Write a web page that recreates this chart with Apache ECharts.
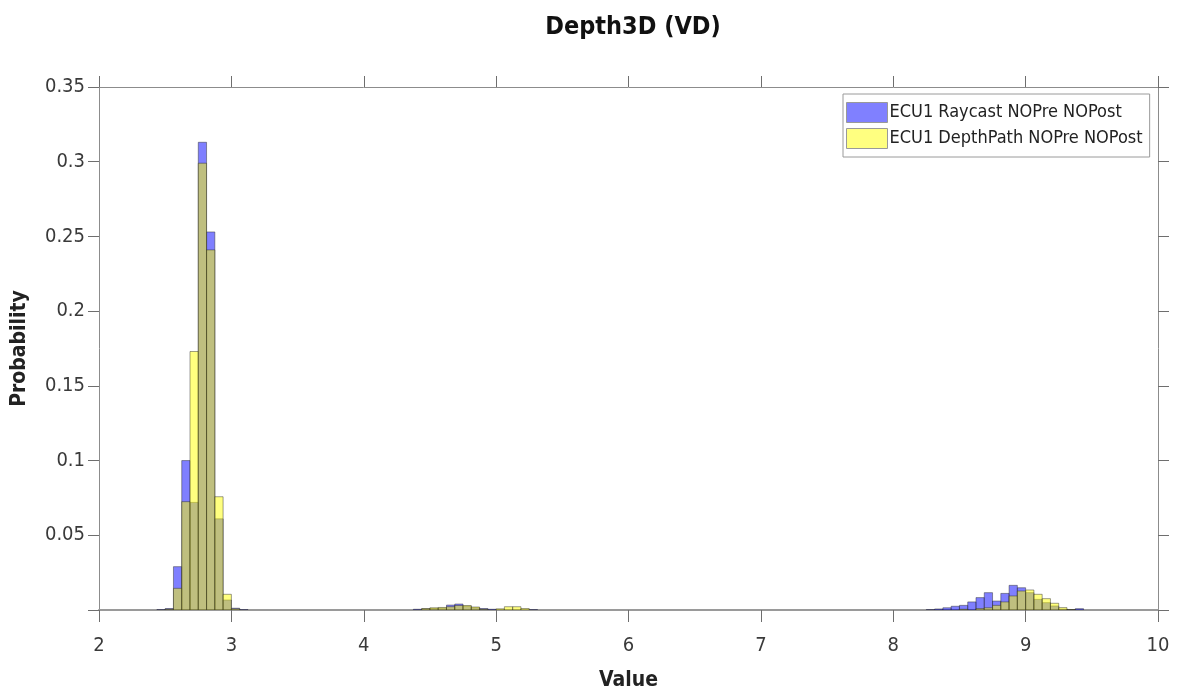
<!DOCTYPE html>
<html>
<head>
<meta charset="utf-8">
<title>Depth3D (VD)</title>
<script src="https://cdn.jsdelivr.net/npm/echarts@6/dist/echarts.min.js"></script>
<style>
  html, body { margin: 0; padding: 0; background: #fff; }
  #chart { width: 1180px; height: 696px; }
</style>
</head>
<body>
<div id="chart"></div>
<script>
// Histogram bins: each entry is [left bin edge, probability]; bins are 0.0625 wide.
const binWidth = 0.0625;
const xTicks = [2, 3, 4, 5, 6, 7, 8, 9, 10];
const yTicks = [0.05, 0.1, 0.15, 0.2, 0.25, 0.3, 0.35];

const seriesNames = ['ECU1 Raycast NOPre NOPost', 'ECU1 DepthPath NOPre NOPost'];

const raycastBins = [
  [2.4375, 0.0003], [2.5, 0.001], [2.5625, 0.029], [2.625, 0.100], [2.6875, 0.072],
  [2.75, 0.313], [2.8125, 0.253], [2.875, 0.061], [2.9375, 0.0067], [3.0, 0.0012],
  [3.0625, 0.0003],
  [4.375, 0.0005], [4.4375, 0.0008], [4.5, 0.001], [4.5625, 0.0012], [4.625, 0.0033],
  [4.6875, 0.004], [4.75, 0.0025], [4.8125, 0.0015], [4.875, 0.001], [4.9375, 0.0005],
  [5.25, 0.0003],
  [8.25, 0.0003], [8.3125, 0.0007], [8.375, 0.0015], [8.4375, 0.0025], [8.5, 0.0031],
  [8.5625, 0.0054], [8.625, 0.0083], [8.6875, 0.0116], [8.75, 0.006], [8.8125, 0.0111],
  [8.875, 0.0165], [8.9375, 0.0149], [9.0, 0.0116], [9.0625, 0.0071], [9.125, 0.0049],
  [9.1875, 0.0027], [9.25, 0.0005], [9.3125, 0.0003], [9.375, 0.0009]
];

const depthPathBins = [
  [2.5, 0.0005], [2.5625, 0.0145], [2.625, 0.0725], [2.6875, 0.173], [2.75, 0.299],
  [2.8125, 0.241], [2.875, 0.0758], [2.9375, 0.0105], [3.0, 0.0008],
  [4.4375, 0.001], [4.5, 0.0015], [4.5625, 0.0017], [4.625, 0.0022], [4.6875, 0.003],
  [4.75, 0.003], [4.8125, 0.002], [4.875, 0.0005],
  [5.0, 0.0008], [5.0625, 0.0022], [5.125, 0.0022], [5.1875, 0.001],
  [8.5, 0.0005], [8.625, 0.001], [8.6875, 0.0015], [8.75, 0.0031], [8.8125, 0.0054],
  [8.875, 0.0094], [8.9375, 0.0127], [9.0, 0.0134], [9.0625, 0.0105], [9.125, 0.0076],
  [9.1875, 0.0045], [9.25, 0.0016], [9.3125, 0.0003]
];

const FONT = "'DejaVu Sans Condensed', 'Liberation Sans', sans-serif";
const blueFill = 'rgba(0, 0, 255, 0.5)';
const yellowFill = 'rgba(255, 255, 0, 0.5)';
const barEdge = 'rgba(40, 40, 40, 0.45)';

function histogramBars(fill) {
  return function (params, api) {
    const left = api.value(0);
    const prob = api.value(1);
    const topLeft = api.coord([left, prob]);
    const bottomRight = api.coord([left + binWidth, 0]);
    return {
      type: 'rect',
      shape: {
        x: topLeft[0],
        y: topLeft[1],
        width: bottomRight[0] - topLeft[0],
        height: bottomRight[1] - topLeft[1]
      },
      style: { fill: fill, stroke: barEdge, lineWidth: 1 }
    };
  };
}

const axisLineStyle = { color: '#8c8c8c', width: 1 };
const tickStyle = { color: '#6e6e6e', width: 1 };

const chart = echarts.init(document.getElementById('chart'), null, { renderer: 'canvas' });

chart.setOption({
  animation: false,
  backgroundColor: '#fff',
  textStyle: { fontFamily: FONT },
  title: {
    text: 'Depth3D (VD)',
    left: 628,
    textAlign: 'center',
    top: 10,
    textStyle: { fontFamily: FONT, fontSize: 25, fontWeight: 'bold', color: '#111' }
  },
  legend: {
    orient: 'vertical',
    left: 843,
    top: 94,
    padding: [8, 7, 8, 3],
    itemGap: 5,
    itemWidth: 41,
    itemHeight: 20,
    icon: 'rect',
    borderColor: '#9a9a9a',
    borderWidth: 1,
    backgroundColor: '#fff',
    textStyle: { fontFamily: FONT, fontSize: 18, color: '#222', padding: [0, 0, 0, -3] },
    data: [
      { name: seriesNames[0], itemStyle: { color: 'rgb(128,128,255)', borderColor: '#999', borderWidth: 1 } },
      { name: seriesNames[1], itemStyle: { color: 'rgb(255,255,128)', borderColor: '#999', borderWidth: 1 } }
    ]
  },
  grid: { left: 99, right: 22, top: 87, bottom: 86, containLabel: false, outerBoundsMode: 'none' },
  xAxis: [
    {
      type: 'value',
      min: xTicks[0],
      max: xTicks[xTicks.length - 1],
      interval: 1,
      position: 'bottom',
      name: 'Value',
      nameLocation: 'middle',
      nameGap: 60,
      nameTextStyle: { fontFamily: FONT, fontSize: 21, fontWeight: 'bold', color: '#222' },
      axisLine: { show: true, onZero: false, lineStyle: { color: '#9a9a9a', width: 2 } },
      axisTick: { show: true, inside: false, length: 12, lineStyle: tickStyle },
      axisLabel: { margin: 26, fontFamily: FONT, fontSize: 20, color: '#3a3a3a' },
      splitLine: { show: false }
    },
    {
      type: 'value',
      min: xTicks[0],
      max: xTicks[xTicks.length - 1],
      interval: 1,
      position: 'top',
      axisLine: { show: true, onZero: false, lineStyle: axisLineStyle },
      axisTick: { show: true, inside: false, length: 11, lineStyle: tickStyle },
      axisLabel: { show: false },
      splitLine: { show: false }
    }
  ],
  yAxis: [
    {
      type: 'value',
      min: 0,
      max: yTicks[yTicks.length - 1],
      interval: 0.05,
      position: 'left',
      name: 'Probability',
      nameLocation: 'middle',
      nameGap: 69,
      nameTextStyle: { fontFamily: FONT, fontSize: 21, fontWeight: 'bold', color: '#222' },
      axisLine: { show: true, onZero: false, lineStyle: axisLineStyle },
      axisTick: { show: true, inside: false, length: 11, lineStyle: tickStyle },
      axisLabel: {
        margin: 14,
        fontFamily: FONT,
        fontSize: 20,
        color: '#3a3a3a',
        formatter: function (v) { return yTicks.some(t => Math.abs(t - v) < 1e-9) ? String(+v.toFixed(2)) : ''; }
      },
      splitLine: { show: false }
    },
    {
      type: 'value',
      min: 0,
      max: yTicks[yTicks.length - 1],
      interval: 0.05,
      position: 'right',
      axisLine: { show: true, onZero: false, lineStyle: axisLineStyle },
      axisTick: { show: true, inside: false, length: 11, lineStyle: tickStyle },
      axisLabel: { show: false },
      splitLine: { show: false }
    }
  ],
  series: [
    {
      name: seriesNames[0],
      type: 'custom',
      xAxisIndex: 0,
      yAxisIndex: 0,
      clip: true,
      itemStyle: { color: 'rgb(128,128,255)' },
      encode: { x: 0, y: 1 },
      renderItem: histogramBars(blueFill),
      data: raycastBins
    },
    {
      name: seriesNames[1],
      type: 'custom',
      xAxisIndex: 0,
      yAxisIndex: 0,
      clip: true,
      itemStyle: { color: 'rgb(255,255,128)' },
      encode: { x: 0, y: 1 },
      renderItem: histogramBars(yellowFill),
      data: depthPathBins
    }
  ]
});
</script>
</body>
</html>
